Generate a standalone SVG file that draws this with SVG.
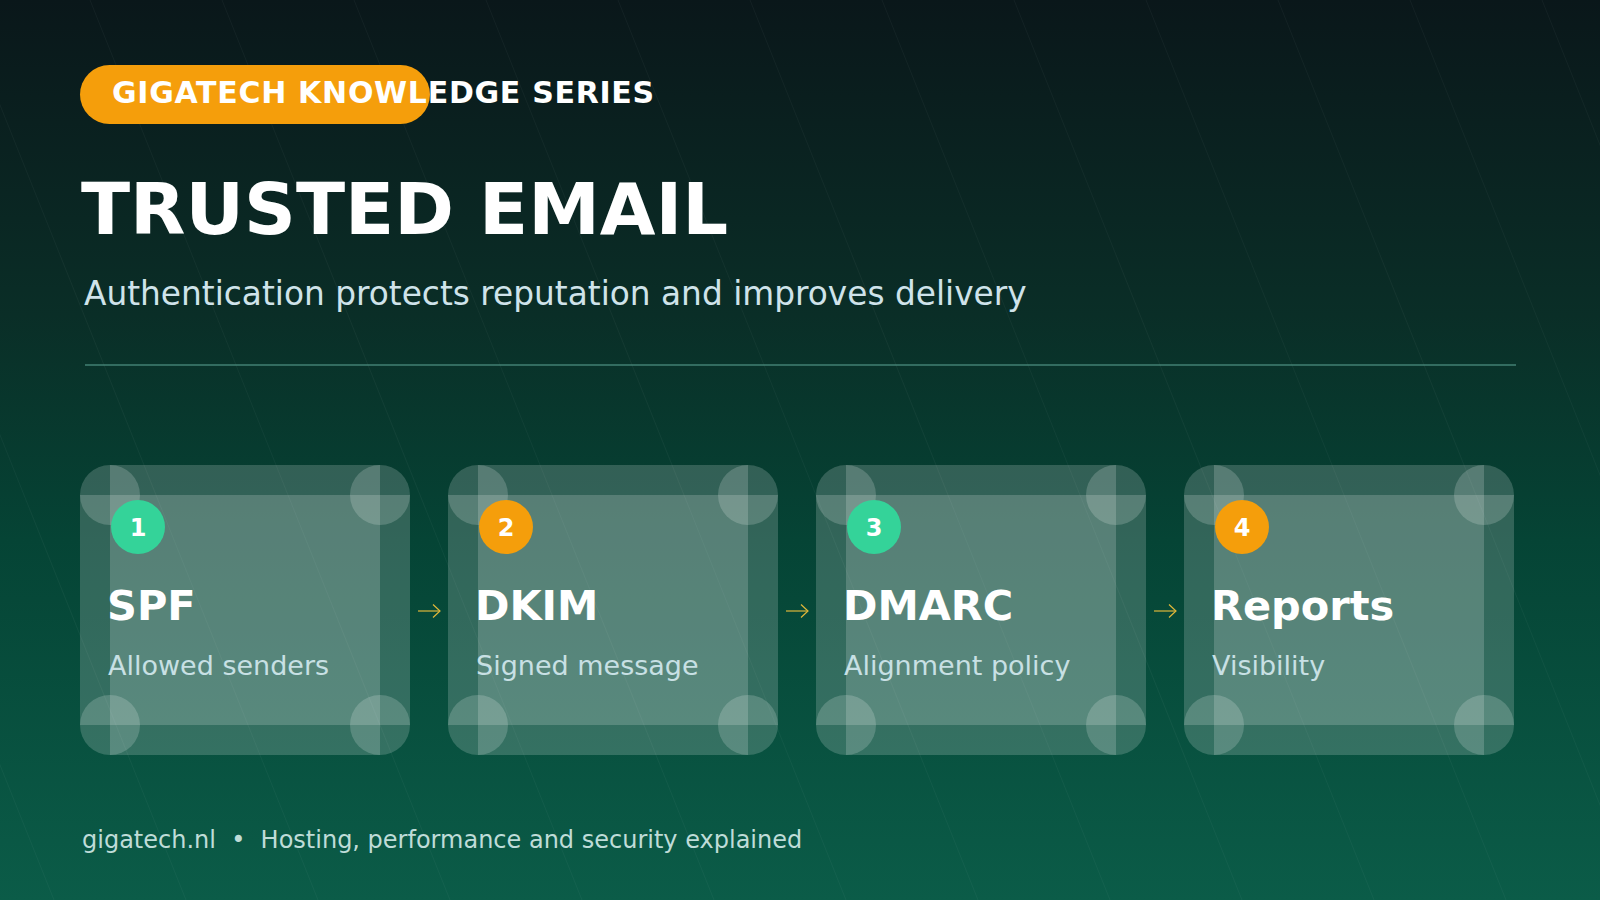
<svg xmlns="http://www.w3.org/2000/svg" width="1600" height="900" viewBox="0 0 1600 900">
  <defs>
    <linearGradient id="bg" x1="0" y1="0" x2="0" y2="1">
      <stop offset="0" stop-color="#0a171a"/>
      <stop offset="0.35" stop-color="#0a2e27"/>
      <stop offset="0.6" stop-color="#054435"/>
      <stop offset="1" stop-color="#0b5c48"/>
    </linearGradient>
    <marker id="arrowhead" viewBox="0 0 10 14" refX="9" refY="7" markerWidth="10" markerHeight="14" markerUnits="userSpaceOnUse" orient="auto">
      <path d="M2,0.5 L9,7 L2,13.5" fill="none" stroke="#e0b73a" stroke-width="1.2"/>
    </marker>
  </defs>
  <style>
    .sans { font-family: "DejaVu Sans", "Noto Sans", sans-serif; }
    .bgline { stroke: #ffffff; stroke-opacity: 0.045; stroke-width: 1; }
    .layer { fill: #ffffff; fill-opacity: 0.18; }
    .num { font-family: "DejaVu Sans", sans-serif; font-weight: bold; font-size: 24px; fill: #ffffff; text-anchor: middle; }
    .ctitle { font-family: "DejaVu Sans", sans-serif; font-weight: bold; font-size: 41.5px; fill: #ffffff; }
    .csub { font-family: "DejaVu Sans", sans-serif; font-size: 27px; fill: #c8e0e4; }
    .conn { stroke: #e0b73a; stroke-width: 1.2; fill: none; }
  </style>

  <rect x="0" y="0" width="1600" height="900" fill="url(#bg)"/>
  <g id="texture">
    <line class="bgline" x1="-306" y1="0" x2="54" y2="900"/>
    <line class="bgline" x1="-174" y1="0" x2="186" y2="900"/>
    <line class="bgline" x1="-42" y1="0" x2="318" y2="900"/>
    <line class="bgline" x1="90" y1="0" x2="450" y2="900"/>
    <line class="bgline" x1="222" y1="0" x2="582" y2="900"/>
    <line class="bgline" x1="354" y1="0" x2="714" y2="900"/>
    <line class="bgline" x1="486" y1="0" x2="846" y2="900"/>
    <line class="bgline" x1="618" y1="0" x2="978" y2="900"/>
    <line class="bgline" x1="750" y1="0" x2="1110" y2="900"/>
    <line class="bgline" x1="882" y1="0" x2="1242" y2="900"/>
    <line class="bgline" x1="1014" y1="0" x2="1374" y2="900"/>
    <line class="bgline" x1="1146" y1="0" x2="1506" y2="900"/>
    <line class="bgline" x1="1278" y1="0" x2="1638" y2="900"/>
    <line class="bgline" x1="1410" y1="0" x2="1770" y2="900"/>
    <line class="bgline" x1="1542" y1="0" x2="1902" y2="900"/>
  </g>

  <g id="header">
    <rect x="80" y="65" width="350" height="59" rx="29.5" fill="#f59e0b"/>
    <text class="sans" x="112" y="103" font-size="30" font-weight="bold" letter-spacing="0.7" fill="#ffffff">GIGATECH KNOWLEDGE SERIES</text>
    <text class="sans" x="81" y="234" font-size="72" font-weight="bold" fill="#ffffff">TRUSTED EMAIL</text>
    <text class="sans" x="84" y="305" font-size="32.8" fill="#cfe3ea">Authentication protects reputation and improves delivery</text>
    <line x1="85" y1="365" x2="1516" y2="365" stroke="#5fa696" stroke-width="1"/>
  </g>

  <g id="card-spf">
    <rect class="layer" x="80" y="495" width="330" height="230"/>
    <rect class="layer" x="110" y="465" width="270" height="290"/>
    <circle class="layer" cx="110" cy="495" r="30"/>
    <circle class="layer" cx="380" cy="495" r="30"/>
    <circle class="layer" cx="110" cy="725" r="30"/>
    <circle class="layer" cx="380" cy="725" r="30"/>
    <circle cx="138" cy="527" r="27" fill="#34d399"/>
    <text class="num" x="138" y="536">1</text>
    <text class="ctitle" x="107" y="620">SPF</text>
    <text class="csub" x="108" y="675">Allowed senders</text>
  </g>

  <g id="card-dkim">
    <rect class="layer" x="448" y="495" width="330" height="230"/>
    <rect class="layer" x="478" y="465" width="270" height="290"/>
    <circle class="layer" cx="478" cy="495" r="30"/>
    <circle class="layer" cx="748" cy="495" r="30"/>
    <circle class="layer" cx="478" cy="725" r="30"/>
    <circle class="layer" cx="748" cy="725" r="30"/>
    <circle cx="506" cy="527" r="27" fill="#f59e0b"/>
    <text class="num" x="506" y="536">2</text>
    <text class="ctitle" x="475" y="620">DKIM</text>
    <text class="csub" x="476" y="675">Signed message</text>
  </g>

  <g id="card-dmarc">
    <rect class="layer" x="816" y="495" width="330" height="230"/>
    <rect class="layer" x="846" y="465" width="270" height="290"/>
    <circle class="layer" cx="846" cy="495" r="30"/>
    <circle class="layer" cx="1116" cy="495" r="30"/>
    <circle class="layer" cx="846" cy="725" r="30"/>
    <circle class="layer" cx="1116" cy="725" r="30"/>
    <circle cx="874" cy="527" r="27" fill="#34d399"/>
    <text class="num" x="874" y="536">3</text>
    <text class="ctitle" x="843" y="620">DMARC</text>
    <text class="csub" x="844" y="675">Alignment policy</text>
  </g>

  <g id="card-reports">
    <rect class="layer" x="1184" y="495" width="330" height="230"/>
    <rect class="layer" x="1214" y="465" width="270" height="290"/>
    <circle class="layer" cx="1214" cy="495" r="30"/>
    <circle class="layer" cx="1484" cy="495" r="30"/>
    <circle class="layer" cx="1214" cy="725" r="30"/>
    <circle class="layer" cx="1484" cy="725" r="30"/>
    <circle cx="1242" cy="527" r="27" fill="#f59e0b"/>
    <text class="num" x="1242" y="536">4</text>
    <text class="ctitle" x="1211" y="620">Reports</text>
    <text class="csub" x="1212" y="675">Visibility</text>
  </g>

  <g id="connectors">
    <line class="conn" x1="418" y1="611" x2="440" y2="611" marker-end="url(#arrowhead)"/>
    <line class="conn" x1="786" y1="611" x2="808" y2="611" marker-end="url(#arrowhead)"/>
    <line class="conn" x1="1154" y1="611" x2="1176" y2="611" marker-end="url(#arrowhead)"/>
  </g>

  <g id="footer">
    <text class="sans" x="82" y="848" font-size="24" fill="#bfdcd8" xml:space="preserve">gigatech.nl  •  Hosting, performance and security explained</text>
  </g>
</svg>
